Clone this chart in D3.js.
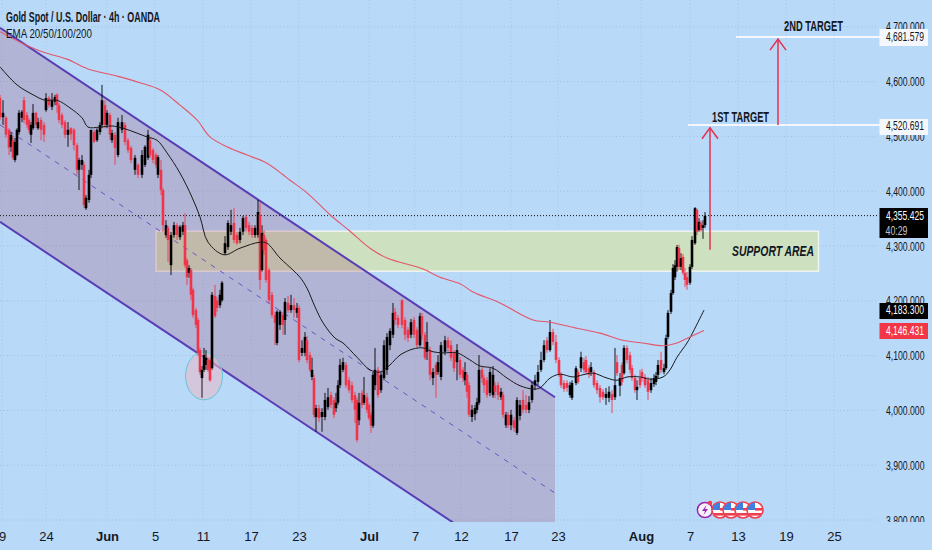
<!DOCTYPE html>
<html>
<head>
<meta charset="utf-8">
<script src="https://cdnjs.cloudflare.com/ajax/libs/d3/7.8.5/d3.min.js"></script>
<style>
html,body{margin:0;padding:0;background:#b9d9f9;overflow:hidden}
text{font-family:"Liberation Sans Narrow","Liberation Sans",sans-serif;fill:#131722}
</style>
</head>
<body>
<script>
var hours = [0,6,12,18,22,26,30,34,38,44,48,54,58,62,66,72,76,82,88,92,98,104,110,114,118,124,130,136,142,148,154,158,164,168,172,178,182,188,194,200,204,210,214,220,224,230,236,244,250,256,262,270,276,284,290,296,300,306,312,316,322,326,332,336,342,348,354,360,366,370,374,378,382,386,392,396,400,404,408,412,416,420,424,430,434,440,444,450,456,462,468,474,480,486,492,498,504,510,516,520,524,528,532,538,544,550,554,560,566,570,576,582,588,594,598,604,610,614,620,624,628,632,638,644,650,656,662,668,672,676,680,686,692,698,704,710,714,718,724,728,734,738,742,746,750,756,762,768,774,780,786,790,796,804,810,816,822,828,834,840,844,850,854,860,866,872,876,882,890,896,902,908,914,920,926,930,934,938,944,950,954,958,964,968,974,980,986,990,996,1002,1006,1012,1016,1022,1028,1034,1040,1046,1052,1058,1064,1070,1076,1082,1088,1094,1100,1106,1112,1118,1122,1128,1134,1140,1144,1152,1156,1162,1168,1172,1178,1182,1188,1194,1200,1206,1212,1218,1224,1230,1234,1240,1244,1248,1254,1260,1264,1270,1274,1280,1284,1290,1296,1302,1308,1312,1316,1322,1328,1332,1336,1342,1346,1350,1354,1358,1362,1366,1370,1374,1380,1384,1390,1394,1398,1402,1406,1410];

var opens = [4570,4535,4534,4512,4481,4493,4457,4466,4508,4534,
4566,4539,4530,4503,4515,4543,4515,4530,4521,4548,
4570,4554,4563,4576,4557,4539,4526,4503,4515,4512,
4484,4439,4448,4448,4369,4384,4430,4508,4493,4508,
4521,4557,4521,4539,4493,4503,4466,4512,4521,4493,
4479,4439,4448,4430,4448,4461,4493,4475,4466,4430,
4439,4402,4320,4333,4265,4320,4338,4316,4326,4338,
4274,4251,4256,4220,4183,4165,4110,4059,4074,4083,
4092,4092,4077,4209,4201,4192,4201,4287,4298,4326,
4342,4320,4311,4326,4353,4338,4333,4320,4320,4357,
4256,4320,4311,4256,4211,4174,4123,4156,4174,4165,
4196,4183,4192,4178,4187,4105,4105,4128,4101,4061,
4059,3988,4004,3988,3988,4006,4028,4019,4004,4014,
4046,4074,4083,4055,4046,4028,4019,3982,4032,4014,
4024,4010,3992,3972,4046,4074,4037,4059,4074,4119,
4138,4180,4169,4201,4165,4147,4138,4165,4147,4119,
4172,4138,4107,4110,4059,4083,4070,4061,4107,4128,
4119,4105,4088,4092,4074,4055,4065,4046,3988,3993,
4001,4014,4074,4059,4055,4032,4028,4046,4046,4024,
4028,3973,3992,3973,3982,3959,3990,4019,4010,4001,
4019,4046,4052,4074,4092,4128,4110,4143,4125,4092,
4065,4050,4050,4028,4023,4050,4070,4077,4088,4092,
4077,4070,4070,4050,4041,4034,4023,4023,4030,4024,
4088,4045,4083,4068,4114,4101,4077,4059,4037,4059,
4070,4061,4055,4037,4048,4052,4065,4092,4070,4077,
4134,4180,4214,4243,4262,4296,4262,4280,4251,4243,
4233,4262,4305,4366,4329,4342,4333,4338];

var highs = [4576,4566,4537,4515,4508,4501,4497,4515,4548,4548,
4572,4545,4534,4526,4559,4545,4534,4535,4526,4579,
4574,4579,4576,4579,4561,4543,4530,4526,4517,4515,
4488,4461,4466,4453,4393,4439,4512,4512,4515,4526,
4594,4566,4548,4543,4512,4508,4534,4539,4526,4497,
4483,4466,4451,4475,4484,4512,4499,4479,4470,4466,
4457,4406,4347,4337,4326,4344,4342,4338,4344,4360,
4278,4265,4260,4224,4187,4169,4114,4081,4114,4110,
4097,4096,4216,4229,4207,4220,4236,4318,4347,4366,
4369,4326,4333,4355,4357,4344,4338,4338,4384,4378,
4338,4329,4315,4260,4216,4180,4183,4183,4180,4205,
4209,4211,4205,4196,4192,4128,4143,4136,4107,4096,
4065,4010,4010,4004,4032,4041,4034,4024,4032,4055,
4094,4096,4088,4061,4052,4034,4024,4032,4037,4061,
4032,4014,3997,4070,4114,4079,4070,4128,4141,4150,
4196,4187,4174,4203,4170,4152,4167,4170,4152,4178,
4178,4143,4161,4116,4077,4088,4101,4125,4136,4134,
4128,4110,4121,4097,4079,4088,4070,4052,4010,4010,
4023,4101,4079,4065,4061,4077,4081,4052,4052,4041,
4034,3997,3997,4001,3988,4024,4019,4037,4028,4026,
4052,4065,4083,4107,4128,4134,4165,4149,4138,4097,
4070,4055,4055,4052,4055,4081,4074,4107,4096,4099,
4083,4088,4074,4055,4046,4039,4041,4044,4037,4114,
4101,4068,4088,4119,4119,4107,4083,4065,4055,4074,
4076,4066,4061,4059,4066,4070,4092,4107,4085,4138,
4183,4220,4267,4274,4302,4302,4287,4285,4260,4253,
4267,4318,4371,4368,4351,4347,4347,4362];

var lows = [4530,4521,4497,4466,4472,4457,4453,4464,4503,4526,
4524,4515,4506,4488,4512,4515,4512,4493,4490,4545,
4552,4548,4557,4543,4524,4515,4497,4481,4493,4475,
4430,4402,4439,4369,4366,4379,4424,4488,4490,4503,
4515,4515,4515,4493,4488,4448,4462,4506,4484,4470,
4451,4430,4424,4424,4444,4457,4461,4451,4442,4424,
4393,4326,4315,4271,4247,4315,4311,4311,4320,4260,
4229,4242,4201,4169,4150,4099,4065,4023,4070,4074,
4070,4052,4074,4169,4180,4187,4198,4284,4293,4320,
4305,4302,4305,4320,4326,4320,4315,4315,4315,4220,
4253,4284,4233,4196,4169,4119,4119,4147,4138,4138,
4178,4178,4169,4169,4088,4099,4099,4086,4070,4055,
3986,3961,3979,3961,3982,4001,4004,3986,3997,4010,
4041,4070,4041,4032,4014,3977,3942,3973,4004,4010,
3995,3982,3959,3968,4037,4023,4032,4055,4065,4110,
4132,4156,4150,4150,4128,4125,4132,4132,4114,4116,
4128,4092,4092,4055,4046,4023,4065,4055,4101,4107,
4090,4070,4055,4059,4052,4046,4023,3988,3979,3982,
3995,4010,4050,4032,4023,4026,4023,4023,4019,4019,
3986,3968,3968,3964,3961,3955,3982,3995,3995,3995,
4014,4037,4046,4070,4088,4105,4107,4119,4086,4061,
4041,4034,4034,4023,4019,4046,4048,4070,4068,4065,
4059,4063,4041,4030,4014,4019,4010,4015,3995,4019,
4063,4026,4046,4065,4086,4068,4054,4032,4019,4041,
4052,4041,4019,4032,4043,4046,4059,4068,4066,4074,
4130,4176,4211,4238,4253,4256,4256,4247,4225,4220,
4229,4258,4302,4320,4326,4326,4313,4333];

var closes = [4535,4543,4503,4479,4503,4461,4490,4512,4543,4545,
4530,4521,4512,4521,4543,4521,4526,4512,4503,4570,
4557,4566,4572,4557,4530,4521,4503,4512,4504,4484,
4439,4457,4457,4375,4388,4430,4512,4490,4512,4521,
4566,4521,4543,4503,4506,4479,4526,4526,4490,4475,
4457,4461,4430,4466,4481,4503,4466,4457,4448,4462,
4402,4338,4338,4311,4320,4338,4320,4335,4338,4265,
4243,4260,4211,4174,4156,4105,4070,4074,4101,4096,
4074,4055,4211,4172,4187,4211,4233,4305,4342,4338,
4311,4305,4326,4351,4333,4326,4320,4333,4362,4238,
4324,4293,4238,4201,4174,4160,4180,4180,4156,4198,
4183,4192,4183,4187,4092,4114,4134,4092,4074,4074,
3992,4004,3986,3997,4019,4024,4010,3992,4014,4046,
4083,4088,4046,4037,4019,4001,3946,4014,4010,4028,
4001,3986,3972,4065,4074,4028,4065,4119,4134,4145,
4178,4165,4156,4156,4138,4132,4161,4138,4119,4172,
4138,4096,4125,4065,4070,4065,4088,4119,4128,4114,
4096,4077,4110,4065,4059,4070,4034,3992,4001,4004,
4015,4074,4059,4046,4028,4070,4065,4034,4028,4034,
3992,3992,3973,3992,3968,4019,4010,4001,4001,4015,
4046,4055,4070,4092,4119,4110,4143,4125,4092,4065,
4046,4039,4041,4046,4050,4077,4052,4097,4074,4070,
4065,4079,4046,4037,4024,4024,4030,4034,4019,4046,
4068,4059,4052,4114,4092,4074,4059,4037,4043,4046,
4059,4046,4034,4050,4059,4063,4083,4074,4077,4132,
4178,4214,4260,4265,4298,4262,4278,4251,4238,4229,
4262,4311,4369,4326,4344,4329,4338,4355];

// EMA lines, [hour, price]
var emaBlack = [[0,4627],[34,4594],[66,4576],[90,4566],[114,4566],[140,4552],[164,4534],[176,4517],[200,4517],[224,4519],[246,4515],[274,4506],[294,4499],[314,4493],[334,4470],[360,4433],[384,4389],[400,4353],[416,4307],[448,4284],[480,4296],[520,4307],[534,4305],[560,4278],[586,4256],[600,4243],[614,4223],[630,4189],[646,4160],[670,4132],[686,4123],[714,4097],[740,4074],[760,4070],[780,4083],[800,4101],[826,4112],[846,4114],[866,4107],[886,4105],[914,4105],[940,4092],[960,4081],[986,4077],[1014,4059],[1040,4045],[1066,4039],[1080,4041],[1100,4059],[1120,4066],[1146,4061],[1166,4065],[1186,4068],[1214,4059],[1234,4055],[1254,4061],[1280,4061],[1300,4057],[1326,4061],[1340,4074],[1354,4097],[1374,4123],[1386,4143],[1408,4183]];
var emaRed = [[0,4691],[40,4672],[86,4654],[134,4641],[176,4623],[234,4610],[280,4598],[320,4585],[360,4557],[394,4530],[420,4499],[454,4481],[494,4466],[534,4451],[566,4430],[580,4420],[614,4397],[660,4357],[700,4327],[740,4296],[774,4278],[846,4258],[880,4243],[920,4231],[946,4216],[1000,4196],[1066,4165],[1100,4161],[1154,4150],[1200,4141],[1246,4128],[1286,4123],[1326,4118],[1354,4123],[1380,4134],[1408,4146]];

// falling channel
var channelHours = [0,1110];
var channelTop = [4698,4024];
var channelMid = [4521,3849];
var channelBottom = [4344,3672];

var supportArea = {from:312,to:1637,hi:4327,lo:4254};
var priceTicks = [3800,3900,4000,4100,4200,4300,4400,4500,4600,4700];
var timeTickHours = [4,92,214,310,406,502,598,738,830,922,1022,1116,1282,1380,1476,1572,1668];
var timeTickLabels = ["9","24","Jun","5","11","17","23","Jul","7","12","17","23","Aug","7","13","19","25"];
var monthLabels = ["Jun","Jul","Aug"];
var lastPrice = 4355.425;
var target1 = 4520.691;
var target2 = 4681.579;
var ema1Last = 4183.3;
var ema2Last = 4146.431;
var flagEventHours = [1440,1462,1486,1510];
var boltEventHour = 1410;

var w = 932, h = 550, paneBottom = 522;
var bg = "#b9d9f9";
var x = d3.scaleLinear().domain([0,1864]).range([0,932]);
var y = d3.scaleLinear().domain([3800,4700]).range([520,26.8]);
var fmt = d3.format(",.3f");

var svg = d3.select("body").append("svg").attr("width",w).attr("height",h).style("display","block");

var defs = svg.append("defs");
defs.append("clipPath").attr("id","pane").append("rect").attr("width",w).attr("height",paneBottom);
defs.append("clipPath").attr("id","flagclip").append("circle").attr("r",7.5);

svg.append("rect").attr("width",w).attr("height",h).attr("fill",bg);

var pane = svg.append("g").attr("clip-path","url(#pane)");

// grid
pane.selectAll(".gh").data(priceTicks).enter().append("line")
  .attr("x1",0).attr("x2",878).attr("y1",function(d){return y(d);}).attr("y2",function(d){return y(d);})
  .attr("stroke","#7f9dbb").attr("stroke-opacity",0.42).attr("stroke-dasharray","1 2.5");
pane.selectAll(".gv").data(timeTickHours).enter().append("line")
  .attr("y1",0).attr("y2",paneBottom).attr("x1",function(d){return x(d);}).attr("x2",function(d){return x(d);})
  .attr("stroke","#7f9dbb").attr("stroke-opacity",0.25).attr("stroke-dasharray","1 2.5");

// support area sits under the channel
pane.append("rect")
  .attr("x",x(supportArea.from)).attr("width",x(supportArea.to)-x(supportArea.from))
  .attr("y",y(supportArea.hi)).attr("height",y(supportArea.lo)-y(supportArea.hi))
  .attr("fill","#cde0c0").attr("stroke","#eef4f0").attr("stroke-width",1.5);

// channel fill + lines
var chArea = d3.area().x(function(d){return x(d[0]);}).y0(function(d){return y(d[2]);}).y1(function(d){return y(d[1]);});
pane.append("path")
  .datum(channelHours.map(function(t,i){return [t,channelTop[i],channelBottom[i]];}))
  .attr("d",chArea).attr("fill","#a0476c").attr("fill-opacity",0.25);

var chLine = d3.line().x(function(d){return x(d[0]);}).y(function(d){return y(d[1]);});
[channelTop,channelBottom].forEach(function(s){
  pane.append("path").datum(channelHours.map(function(t,i){return [t,s[i]];}))
    .attr("d",chLine).attr("fill","none").attr("stroke","#5a3db5").attr("stroke-width",2);
});
pane.append("path").datum(channelHours.map(function(t,i){return [t,channelMid[i]];}))
  .attr("d",chLine).attr("fill","none").attr("stroke","#6a55c0").attr("stroke-width",1).attr("stroke-dasharray","5 6");

// circle on the june low
pane.append("ellipse").attr("cx",x(408)).attr("cy",y(4063)).attr("rx",18.5).attr("ry",24)
  .attr("fill","#e6b9c8").attr("fill-opacity",0.6).attr("stroke","#63c7d6").attr("stroke-width",1);

// last price line
pane.append("line").attr("x1",0).attr("x2",878).attr("y1",y(lastPrice)).attr("y2",y(lastPrice))
  .attr("stroke","#111").attr("stroke-dasharray","1 2");

// candles
var candles = hours.map(function(t,i){return {t:t,o:opens[i],h:highs[i],l:lows[i],c:closes[i]};});
var col = function(d){return d.c>=d.o ? "#000000" : "#f0354a";};
var g = pane.append("g");
g.selectAll(".wick").data(candles).enter().append("line")
  .attr("x1",function(d){return x(d.t);}).attr("x2",function(d){return x(d.t);})
  .attr("y1",function(d){return y(d.h);}).attr("y2",function(d){return y(d.l);})
  .attr("stroke",col).attr("stroke-width",0.9);
g.selectAll(".body").data(candles).enter().append("rect")
  .attr("x",function(d){return x(d.t)-1.3;}).attr("width",2.6)
  .attr("y",function(d){return y(Math.max(d.o,d.c));})
  .attr("height",function(d){return Math.max(1,Math.abs(y(d.o)-y(d.c)));})
  .attr("fill",col);

// ema
var emaLine = d3.line().x(function(d){return x(d[0]);}).y(function(d){return y(d[1]);}).curve(d3.curveCatmullRom);
pane.append("path").datum(emaBlack).attr("d",emaLine).attr("fill","none").attr("stroke","#1a1a1a").attr("stroke-width",1);
pane.append("path").datum(emaRed).attr("d",emaLine).attr("fill","none").attr("stroke","#e4566a").attr("stroke-width",1.1);

// target lines
svg.append("line").attr("x1",x(1376)).attr("x2",880).attr("y1",y(target1)).attr("y2",y(target1)).attr("stroke","#f4f8fc").attr("stroke-width",2);
svg.append("line").attr("x1",x(1472)).attr("x2",880).attr("y1",y(target2)).attr("y2",y(target2)).attr("stroke","#f4f8fc").attr("stroke-width",2);

// arrows
var arrowColor = "#e6304f";
function arrow(hour,p0,p1){
  var ax=x(hour), y0=y(p0), y1=y(p1);
  svg.append("line").attr("x1",ax).attr("x2",ax).attr("y1",y0).attr("y2",y1).attr("stroke",arrowColor).attr("stroke-width",1.5);
  svg.append("path").attr("d","M"+(ax-8)+","+(y1+11)+"L"+ax+","+y1+"L"+(ax+8)+","+(y1+11))
    .attr("fill","none").attr("stroke",arrowColor).attr("stroke-width",1.5);
}
arrow(1420,4293,target1-5);
arrow(1556,target1,target2-4);

// fitted text, the chart uses a narrow face
function label(parent,str,tx,ty,size,len,opts){
  opts=opts||{};
  return parent.append("text").attr("x",tx).attr("y",ty).attr("dominant-baseline","central")
    .attr("font-size",size).attr("font-weight",opts.weight||400).attr("font-style",opts.style||"normal")
    .attr("textLength",len).attr("lengthAdjust","spacingAndGlyphs")
    .style("fill",opts.fill||"#131722").text(str);
}
label(svg,"Gold Spot / U.S. Dollar · 4h · OANDA",6,16.5,14,154,{weight:700});
label(svg,"EMA 20/50/100/200",6,33,13,86,{});
label(svg,"1ST TARGET",712,117,14,57,{weight:700});
label(svg,"2ND TARGET",784,26,14,59,{weight:700});
label(svg,"SUPPORT AREA",732,251,14,82,{weight:700,style:"italic"});

// price axis
var yAxis = d3.axisLeft(y).tickValues(priceTicks).tickSize(0).tickPadding(0).tickFormat(fmt);
var yG = svg.append("g").attr("transform","translate(924.5,0)").call(yAxis);
yG.select(".domain").remove();
yG.selectAll("text").attr("font-size",13).attr("textLength",38.5).attr("lengthAdjust","spacingAndGlyphs").style("fill","#131722");

// the time strip hides the lower half of the lowest price label
svg.append("rect").attr("x",880).attr("y",paneBottom).attr("width",52).attr("height",h-paneBottom).attr("fill",bg);

// time axis
var xAxis = d3.axisBottom(x).tickValues(timeTickHours).tickSize(0).tickPadding(0)
  .tickFormat(function(d,i){return timeTickLabels[i];});
var xG = svg.append("g").attr("transform","translate(0,529)").call(xAxis);
xG.select(".domain").remove();
xG.selectAll("text").attr("font-size",13).attr("dy",0).attr("y",0).attr("dominant-baseline","text-before-edge")
  .attr("font-weight",function(d,i){return monthLabels.indexOf(timeTickLabels[i])>=0?700:400;})
  .style("fill","#131722");

// price tags
function tag(price,bg,fg,len,h0,h1){
  svg.append("rect").attr("x",879.5).attr("width",48.5).attr("y",h0).attr("height",h1-h0).attr("fill",bg);
  label(svg,fmt(price),886,y(price),13,len,{fill:fg});
}
tag(target2,"#f4f8fc","#131722",38,29,46);
tag(target1,"#f4f8fc","#131722",38,119,135);
tag(lastPrice,"#000000","#ffffff",38,208,238);
label(svg,"40:29",885.5,230,13,22,{fill:"#c4c4c4"});
tag(ema1Last,"#000000","#ffffff",38,303,319);
tag(ema2Last,"#f23645","#ffffff",38,323,339);

// event icons under the bars
var iconY = 510;
var bolt = svg.append("g").attr("transform","translate("+x(boltEventHour)+","+iconY+")");
bolt.append("circle").attr("r",7.6).attr("fill","#f6f2fa").attr("stroke","#9c27b0").attr("stroke-width",1.5);
bolt.append("path").attr("d","M1.5,-5L-3,1H0L-1.5,5L3,-1H0Z").attr("fill","#9c27b0");
bolt.append("circle").attr("cx",5).attr("cy",-7).attr("r",2.2).attr("fill","#ee3d50");

var flags = svg.selectAll(".flag").data(flagEventHours).enter().append("g")
  .attr("transform",function(d){return "translate("+x(d)+","+iconY+")";});
flags.append("circle").attr("r",8).attr("fill","#fff").attr("stroke","#ee3d50").attr("stroke-width",1.6);
var inner = flags.append("g").attr("clip-path","url(#flagclip)");
inner.append("rect").attr("x",-8).attr("y",-8).attr("width",8).attr("height",8).attr("fill","#3f7fe0");
inner.append("rect").attr("x",0).attr("y",-2).attr("width",8).attr("height",2.6).attr("fill","#ee3d50");
inner.append("rect").attr("x",-8).attr("y",3).attr("width",16).attr("height",2.6).attr("fill","#ee3d50");
</script>
</body>
</html>
